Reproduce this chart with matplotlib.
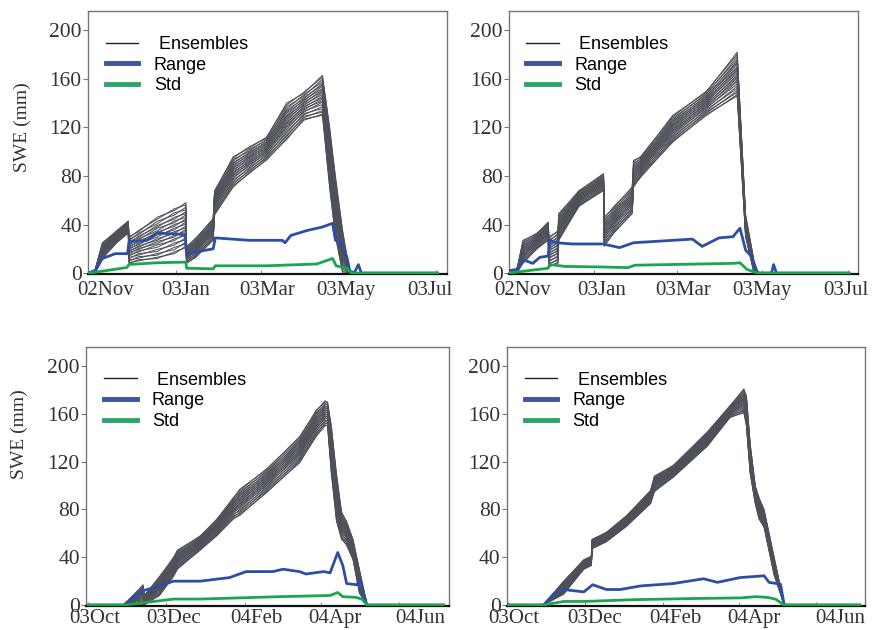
import matplotlib
matplotlib.use("Agg")
import matplotlib.pyplot as plt
import numpy as np
from matplotlib.lines import Line2D

# ---------------- data (days since the first day of each season) ----------------
# season starts: top panels 2002-11-01, bottom panels 2003-10-01
# each ensemble member sits at a fraction of the read envelope; the two lists
# alternate between successive key dates so members weave as in the figure
member_frac_a = [0.00, 0.04, 0.09, 0.14, 0.19, 0.24, 0.29, 0.33, 0.37, 0.41, 0.45, 0.49,
                 0.53, 0.57, 0.61, 0.65, 0.69, 0.73, 0.77, 0.81, 0.86, 0.91, 0.96, 1.00]
member_frac_b = [0.03, 0.00, 0.12, 0.08, 0.22, 0.17, 0.33, 0.27, 0.41, 0.36, 0.48, 0.44,
                 0.57, 0.52, 0.64, 0.60, 0.73, 0.67, 0.80, 0.76, 0.90, 0.84, 1.00, 0.95]

# top-left
tl_days  = [0, 5, 10, 20, 28, 28.5, 35, 48, 60, 68, 68.5, 75, 87, 88, 101, 112, 124, 138, 150, 163, 168, 172, 177, 182, 243]
tl_upper = [0, 3, 25, 35, 43, 30, 35, 46, 53, 58, 22, 29, 45, 68, 96, 104, 112, 140, 149, 163, 120, 80, 35, 0, 0]
tl_lower = [0, 0, 12, 25, 33, 8, 10, 12, 16, 21, 8, 13, 27, 48, 71, 82, 93, 110, 126, 130, 70, 30, 0, 0, 0]
tl_range_days = [0, 5, 10, 19, 27.5, 28.5, 41, 48, 65, 67.5, 68.5, 87, 88.5, 112, 135, 137, 141, 152, 163, 170, 172, 175, 180, 182, 185, 188, 190, 243]
tl_range_vals = [0, 2, 12, 16, 16, 26, 27, 33, 32, 31, 16, 20, 29, 27, 27, 25, 31, 35, 38, 41, 27, 26, 13, 2, 0, 7, 0, 0]
tl_std_days = [0, 4, 27, 28.5, 48, 66, 68, 68.6, 87, 88.5, 124, 159, 170, 172.5, 180, 183, 243]
tl_std_vals = [0, 0.5, 4.6, 7.1, 8.5, 9, 9, 4, 3.5, 6, 6, 7.5, 12, 6, 4, 0, 0]

# top-right
tr_days  = [0, 5.5, 10, 20, 28, 28.5, 35, 35.5, 50, 67.5, 68, 75, 88, 89, 94, 117, 141, 163, 169, 175, 178, 243]
tr_upper = [0, 2, 27, 33, 42, 30, 35, 49, 68, 82, 46, 55, 71, 93, 96, 130, 150, 182, 48, 10, 0, 0]
tr_lower = [0, 0, 8, 20, 27, 5, 8, 27, 55, 68, 22, 33, 49, 71, 79, 108, 130, 146, 30, 0, 0, 0]
tr_range_days = [0, 5.5, 10, 17, 22, 28, 29, 34, 45, 67, 79, 89, 117, 131, 138, 150, 160, 165, 169, 173, 177, 179, 187.5, 189, 191, 243]
tr_range_vals = [2, 3, 11, 8, 13, 14, 27, 25, 24, 24, 21, 25, 27, 28, 22, 29, 30, 37, 19, 14, 1, 0, 0, 7, 0, 0]
tr_std_days = [0, 10, 28, 29, 40, 67, 85, 90, 160, 165, 170, 175, 178, 243]
tr_std_vals = [0, 1.5, 4, 7, 5.5, 5, 4.5, 6.5, 8, 8.5, 3, 1, 0, 0]

# bottom-left
bl_days  = [0, 27.5, 35, 43, 44, 56, 67, 70, 88, 101, 114, 119, 140, 166, 179, 186, 188, 191, 195, 199, 203, 208, 213, 219, 279]
bl_upper = [0, 0, 8, 17, 8, 24, 40, 46, 58, 72, 90, 97, 114, 141, 163, 171, 170, 150, 110, 78, 70, 55, 30, 0, 0]
bl_lower = [0, 0, 0, 0, 0, 8, 24, 30, 46, 58, 72, 75, 94, 119, 141, 150, 150, 110, 70, 55, 50, 38, 10, 0, 0]
bl_range_days = [0, 28, 35, 43, 56, 67, 88, 111, 124, 145, 153, 166, 171, 185, 190, 196, 200, 203, 211, 213, 216, 219, 279]
bl_range_vals = [0, 0, 6, 12, 16, 20, 20, 23, 28, 28, 30, 28, 26, 28, 27, 44, 33, 18, 17, 21, 10, 0, 0]
bl_std_days = [0, 28, 40, 67, 88, 150, 190, 196, 200, 210, 215, 219, 279]
bl_std_vals = [0, 0, 1.5, 5, 5, 7, 8, 10.5, 7, 6.5, 5, 0, 0]

# bottom-right
br_days  = [0, 27.8, 44, 60, 66, 66.5, 78, 94, 113, 116, 131, 158, 176, 187, 189, 192, 196, 199, 203, 211, 219, 279]
br_upper = [0, 0, 20, 38, 41, 55, 61, 75, 96, 108, 117, 145, 167, 181, 175, 135, 100, 90, 80, 40, 0, 0]
br_lower = [0, 0, 9, 30, 33, 47, 53, 66, 85, 95, 107, 133, 157, 161, 150, 110, 85, 72, 65, 25, 0, 0]
br_range_days = [0, 28, 36, 44, 52, 60, 67, 78, 89, 105, 131, 155, 166, 184, 203, 207, 216, 219, 279]
br_range_vals = [0, 0, 9, 13, 12, 11, 17, 13, 13, 16, 18, 22, 19, 23, 24.5, 19, 17.5, 0, 0]
br_std_days = [0, 28, 44, 60, 100, 150, 185, 196, 205, 212, 219, 279]
br_std_vals = [0, 0, 3, 3, 4.5, 5.5, 6, 7, 6.5, 5, 0, 0]

top_labels = ["02Nov", "03Jan", "03Mar", "03May", "03Jul"]
bot_labels = ["03Oct", "03Dec", "04Feb", "04Apr", "04Jun"]
top_month_days = [0, 61, 120, 181, 242]      # Nov1, Jan1, Mar1, May1, Jul1
bot_month_days = [0, 61, 123, 183, 244]      # Oct1, Dec1, Feb1, Apr1, Jun1
yticks = [0, 40, 80, 120, 160, 200]

# ---------------- style ----------------
C_ENS = "#4d5058"
C_RANGE = "#2e4ea6"
C_STD = "#1ba64c"
SERIF = "Liberation Serif"
SANS = "Liberation Sans"

fig = plt.figure(figsize=(8.74, 6.30), dpi=100)

panels = [
    dict(pos=[0.1007, 0.565, 0.4108, 0.4175], d=tl_days, up=tl_upper, lo=tl_lower,
         rd=tl_range_days, rv=tl_range_vals, sd=tl_std_days, sv=tl_std_vals,
         xlim=(0, 249.6), labels=top_labels, lab_pos=[12.5, 68.1, 124.4, 179.4, 237.8],
         months=top_month_days, ylabel=True, ylab_y=0.56, pad=5),
    dict(pos=[0.5824, 0.565, 0.3993, 0.4175], d=tr_days, up=tr_upper, lo=tr_lower,
         rd=tr_range_days, rv=tr_range_vals, sd=tr_std_days, sv=tr_std_vals,
         xlim=(0, 249.3), labels=top_labels, lab_pos=[9.6, 66.3, 124.6, 180.7, 240.7],
         months=top_month_days, ylabel=False, ylab_y=0.56, pad=5),
    dict(pos=[0.0984, 0.0381, 0.4153, 0.411], d=bl_days, up=bl_upper, lo=bl_lower,
         rd=bl_range_days, rv=bl_range_vals, sd=bl_std_days, sv=bl_std_vals,
         xlim=(-1.8, 283.4), labels=bot_labels, lab_pos=[5.3, 67.3, 131.7, 193.8, 260.5],
         months=bot_month_days, ylabel=True, ylab_y=0.664, pad=2),
    dict(pos=[0.580, 0.0381, 0.4096, 0.411], d=br_days, up=br_upper, lo=br_lower,
         rd=br_range_days, rv=br_range_vals, sd=br_std_days, sv=br_std_vals,
         xlim=(-1.0, 283.0), labels=bot_labels, lab_pos=[4.5, 68.2, 132.6, 195.1, 263.8],
         months=bot_month_days, ylabel=False, ylab_y=0.664, pad=2),
]

for p in panels:
    ax = fig.add_axes(p["pos"])
    d = np.array(p["d"], dtype=float)
    up = np.array(p["up"], dtype=float)
    lo = np.array(p["lo"], dtype=float)
    for fa, fb in zip(member_frac_a, member_frac_b):
        f = np.array([fa if k % 2 == 0 else fb for k in range(len(d))])
        ax.plot(d, lo + f * (up - lo), color=C_ENS, lw=0.75, zorder=2)
    ax.plot(p["rd"], p["rv"], color=C_RANGE, lw=2.0, zorder=3)
    ax.plot(p["sd"], p["sv"], color=C_STD, lw=2.0, zorder=3)

    ax.set_xlim(*p["xlim"])
    ax.set_ylim(-0.8, 216)
    ax.set_yticks(yticks)
    ax.set_yticklabels([str(v) for v in yticks], fontfamily=SERIF, fontsize=15.5)
    ax.set_xticks(p["lab_pos"])
    ax.set_xticklabels(p["labels"], fontfamily=SERIF, fontsize=15)
    ax.set_xticks(p["months"], minor=True)
    ax.tick_params(axis="x", which="major", length=0, pad=p["pad"], colors="#333333")
    ax.tick_params(axis="x", which="minor", direction="in", length=3, color="#777777")
    ax.tick_params(axis="y", direction="out", length=3.5, pad=1, color="#777777",
                   labelcolor="#333333")
    for s in ["top", "right", "left"]:
        ax.spines[s].set_color("#777777")
        ax.spines[s].set_linewidth(1.0)
    ax.spines["bottom"].set_color("#111111")
    ax.spines["bottom"].set_linewidth(1.6)

    if p["ylabel"]:
        ax.set_ylabel("SWE (mm)", fontfamily=SERIF, fontsize=14, color="#333333")
        ax.yaxis.set_label_coords(-0.16, p["ylab_y"])

    handles = [Line2D([], [], color="#222222", lw=1.0),
               Line2D([], [], color="#3a55a8", lw=3.5),
               Line2D([], [], color="#2ca46a", lw=3.5)]
    ax.legend(handles, [" Ensembles", "Range", "Std"], loc="upper left",
              bbox_to_anchor=(0.05, 0.905), frameon=False, borderpad=0, borderaxespad=0,
              handlelength=1.8, handletextpad=0.85, labelspacing=0.2,
              prop={"family": SANS, "size": 13})

fig.savefig("out.png", dpi=100)
